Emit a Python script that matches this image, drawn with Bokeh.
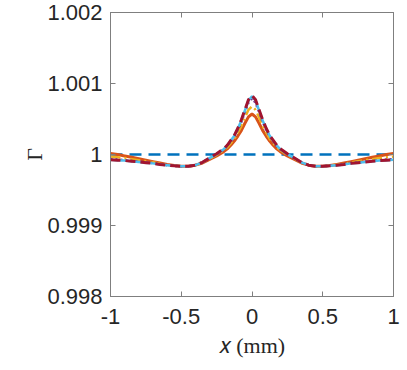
from bokeh.plotting import figure
from bokeh.models import LinearAxis, FixedTicker, Range1d
from bokeh.embed import file_html
from bokeh.resources import INLINE

x = [-1.0, -0.95, -0.9, -0.85, -0.8, -0.75, -0.7, -0.65, -0.6, -0.55, -0.5, -0.45, -0.4,
     -0.35, -0.3, -0.25, -0.2, -0.175, -0.15, -0.125, -0.1, -0.075, -0.05, -0.025, 0.0,
     0.025, 0.05, 0.075, 0.1, 0.125, 0.15, 0.175, 0.2, 0.25, 0.3, 0.35, 0.4, 0.45, 0.5,
     0.55, 0.6, 0.65, 0.7, 0.75, 0.8, 0.85, 0.9, 0.95, 1.0]

blue_x = [-1.0, 1.0]
blue_y = [1.0, 1.0]

orange_y = [1.000015, 1.0, 0.99998, 0.99996, 0.99994, 0.99992, 0.9999, 0.99988, 0.99986, 0.999845,
            0.999835, 0.999835, 0.99985, 0.99988, 0.99993, 0.99998, 1.00004, 1.00008, 1.00013,
            1.00019, 1.00026, 1.00034, 1.00044, 1.00053, 1.00057, 1.00053, 1.00044, 1.00034,
            1.00026, 1.00019, 1.00013, 1.00008, 1.00004, 0.99998, 0.99993, 0.99988, 0.99985,
            0.999835, 0.999835, 0.999845, 0.99986, 0.99988, 0.9999, 0.99992, 0.99994, 0.99996,
            0.99998, 1.0, 1.000015]

yellow_y = [0.99997, 0.99996, 0.99995, 0.999935, 0.99992, 0.999905, 0.99989, 0.99987, 0.999855,
            0.999842, 0.999835, 0.999835, 0.99985, 0.999885, 0.99994, 0.999995, 1.00006, 1.0001,
            1.00016, 1.00022, 1.00031, 1.0004, 1.00052, 1.00063, 1.00068, 1.00063, 1.00052,
            1.0004, 1.00031, 1.00022, 1.00016, 1.0001, 1.00006, 0.999995, 0.99994, 0.999885,
            0.99985, 0.999835, 0.999835, 0.999842, 0.999855, 0.99987, 0.99989, 0.999905, 0.99992,
            0.999935, 0.99995, 0.99996, 0.99997]

purple_y = [0.999935, 0.99993, 0.99992, 0.99991, 0.9999, 0.99989, 0.99988, 0.999865, 0.99985,
            0.99984, 0.999835, 0.999835, 0.99985, 0.99989, 0.999945, 1.000005, 1.00007, 1.00012,
            1.00019, 1.000255, 1.00035, 1.00046, 1.0006, 1.00073, 1.00079, 1.00073, 1.0006,
            1.00046, 1.00035, 1.000255, 1.00019, 1.00012, 1.00007, 1.000005, 0.999945, 0.99989,
            0.99985, 0.999835, 0.999835, 0.99984, 0.99985, 0.999865, 0.99988, 0.99989, 0.9999,
            0.99991, 0.99992, 0.99993, 0.999935]

lightblue_y = [0.999925, 0.99992, 0.999915, 0.999905, 0.999895, 0.999885, 0.999875, 0.99986,
               0.99985, 0.99984, 0.999835, 0.999835, 0.99985, 0.99989, 0.99995, 1.000005,
               1.000075, 1.000125, 1.000195, 1.000265, 1.000365, 1.00048, 1.00062, 1.00076,
               1.00082, 1.00076, 1.00062, 1.00048, 1.000365, 1.000265, 1.000195, 1.000125,
               1.000075, 1.000005, 0.99995, 0.99989, 0.99985, 0.999835, 0.999835, 0.99984,
               0.99985, 0.99986, 0.999875, 0.999885, 0.999895, 0.999905, 0.999915, 0.99992,
               0.999925]

red_y = [0.999925, 0.99992, 0.999915, 0.999905, 0.999895, 0.999885, 0.999875, 0.99986, 0.99985,
         0.99984, 0.999835, 0.999835, 0.99985, 0.99989, 0.99995, 1.00001, 1.00008, 1.00013,
         1.0002, 1.00027, 1.00037, 1.00049, 1.00063, 1.00077, 1.00083, 1.00077, 1.00063, 1.00049,
         1.00037, 1.00027, 1.0002, 1.00013, 1.00008, 1.00001, 0.99995, 0.99989, 0.99985,
         0.999835, 0.999835, 0.99984, 0.99985, 0.99986, 0.999875, 0.999885, 0.999895, 0.999905,
         0.999915, 0.99992, 0.999925]

x_ticks = [-1, -0.5, 0, 0.5, 1]
x_tick_labels = ["-1", "-0.5", "0", "0.5", "1"]
y_ticks = [0.998, 0.999, 1.0, 1.001, 1.002]
y_tick_labels = ["0.998", "0.999", "1", "1.001", "1.002"]

AX = "#7f7f7f"
TXT = "#262626"

p = figure(width=400, height=368, output_backend="svg", toolbar_location=None,
           x_range=Range1d(-1, 1), y_range=Range1d(0.998, 1.002),
           min_border_left=110, min_border_right=7, min_border_top=12, min_border_bottom=72)
p.xgrid.visible = False
p.ygrid.visible = False
p.outline_line_color = AX
p.background_fill_color = "white"
p.border_fill_color = "white"

p.line(blue_x, blue_y, line_color="#0072BD", line_width=2.5, line_dash="12 7")
p.line(x, orange_y, line_color="#D95319", line_width=3)
p.line(x, yellow_y, line_color="#EDB120", line_width=2.5, line_dash="10 4 2 4")
p.line(x, purple_y, line_color="#7E2F8E", line_width=2.5, line_dash="2 3")
p.line(x, lightblue_y, line_color="#4DBEEE", line_width=2.5)
p.line(x, red_y, line_color="#A2142F", line_width=3, line_dash="10 5")

def style(ax, labels=True):
    ax.axis_line_color = AX
    ax.major_tick_line_color = AX
    ax.major_tick_in = 5
    ax.major_tick_out = 0
    ax.minor_tick_line_color = None
    ax.major_label_text_font = "Liberation Sans"
    ax.major_label_text_font_size = "22px"
    ax.major_label_text_color = TXT
    if not labels:
        ax.major_label_text_font_size = "1px"
        ax.major_label_text_color = None
        ax.major_label_standoff = 0

xa = p.xaxis[0]
xa.ticker = FixedTicker(ticks=x_ticks)
xa.major_label_overrides = dict(zip(x_ticks, x_tick_labels))
style(xa)
xa.major_label_standoff = 12
xa.axis_label = "\U0001D465 (mm)"
xa.axis_label_text_font = "Liberation Serif"
xa.axis_label_text_font_style = "normal"
xa.axis_label_text_font_size = "22px"
xa.axis_label_text_color = TXT
xa.axis_label_standoff = 6

ya = p.yaxis[0]
ya.ticker = FixedTicker(ticks=y_ticks)
ya.major_label_overrides = dict(zip(y_ticks, y_tick_labels))
style(ya)
ya.major_label_standoff = 8
ya.axis_label = "Γ"
ya.axis_label_text_font = "Liberation Serif"
ya.axis_label_text_font_style = "normal"
ya.axis_label_text_font_size = "22px"
ya.axis_label_text_color = TXT
ya.axis_label_standoff = -3

top = LinearAxis(ticker=FixedTicker(ticks=x_ticks))
style(top, labels=False)
p.add_layout(top, "above")
right = LinearAxis(ticker=FixedTicker(ticks=y_ticks))
style(right, labels=False)
p.add_layout(right, "right")

open("out.html", "w").write(file_html(p, INLINE))
